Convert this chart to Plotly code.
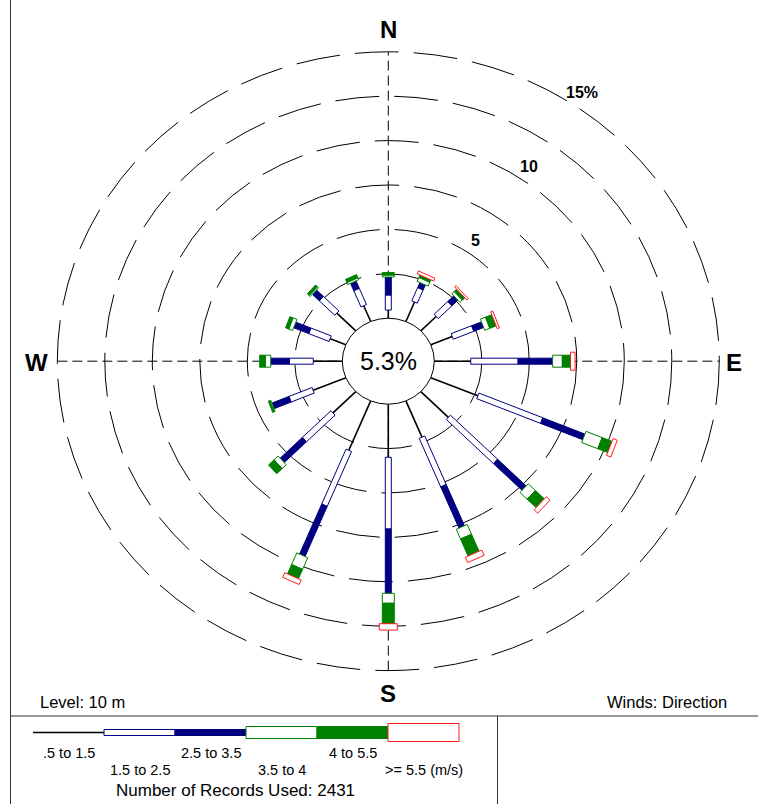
import math
import plotly.graph_objects as go

# ---- data -------------------------------------------------------------
directions = ["N", "NNE", "NE", "ENE", "E", "ESE", "SE", "SSE",
              "S", "SSW", "SW", "WSW", "W", "WNW", "NW", "NNW"]
dir_angles = [i * 22.5 for i in range(16)]

speed_labels = [".5 to 1.5", "1.5 to 2.5", "2.5 to 3.5",
                "3.5 to 4", "4 to 5.5", ">= 5.5 (m/s)"]

# frequency (%) of each wind speed class per direction
cls_05_15 = [0.46, 1.19, 1.14, 1.22, 1.92, 2.68, 2.05, 2.21, 2.99, 3.01, 1.70, 1.86, 1.53, 0.89, 1.41, 0.96]
cls_15_25 = [0.85, 0.81, 1.02, 1.17, 2.49, 3.64, 3.51, 2.96, 4.04, 3.35, 2.12, 1.32, 1.26, 1.16, 1.15, 0.99]
cls_25_35 = [1.01, 0.30, 0.45, 0.56, 1.82, 2.40, 2.13, 2.51, 3.62, 3.05, 1.66, 0.97, 0.98, 0.86, 0.52, 0.45]
cls_35_40 = [0.11, 0.24, 0.18, 0.29, 0.51, 0.92, 0.53, 0.59, 0.56, 0.71, 0.30, 0.06, 0.28, 0.22, 0.08, 0.12]
cls_40_55 = [0.14, 0.15, 0.18, 0.36, 0.43, 0.56, 0.67, 1.04, 1.15, 0.57, 0.41, 0.08, 0.30, 0.18, 0.14, 0.19]
cls_55_up = [0.00, 0.17, 0.11, 0.12, 0.24, 0.24, 0.27, 0.32, 0.36, 0.28, 0.00, 0.00, 0.00, 0.00, 0.00, 0.00]

calm_pct = 5.3
records_used = 2431
ring_pcts = [2.5, 5, 7.5, 10, 12.5, 15]
ring_texts = {5: "5", 10: "10", 15: "15%"}

# ---- geometry ---------------------------------------------------------
W, H = 758, 804
CX, CY = 388.3, 361.2          # rose centre in page pixels
SX, SY = 19.0, 17.76           # pixels per percent unit (x, y)
R0 = 2.42                      # calm circle radius (percent units)

x_range = [-CX / SX, (W - CX) / SX]
y_range = [-(H - CY) / SY, CY / SY]

FONT = "Liberation Sans, Arial, sans-serif"
NAVY = "#000080"
GREEN = "#008000"
RED = "#ff1a1a"


def seg_poly(theta_deg, ra, rb, half_px):
    """Rectangle along a spoke from radius ra to rb, half width in pixels."""
    t = math.radians(theta_deg)
    s, c = math.sin(t), math.cos(t)
    ux, uy = SX * s, SY * c
    n = math.hypot(ux, uy)
    ux, uy = ux / n, uy / n
    px, py = -uy, ux
    ox, oy = half_px * px / SX, half_px * py / SY
    ax, ay = ra * s, ra * c
    bx, by = rb * s, rb * c
    return ([ax + ox, bx + ox, bx - ox, ax - ox, ax + ox, None],
            [ay + oy, by + oy, by - oy, ay - oy, ay + oy, None])


classes = [cls_05_15, cls_15_25, cls_25_35, cls_35_40, cls_40_55, cls_55_up]
# (half width px, fill, outline)
styles = [None,
          (3.0, "white", NAVY),
          (3.0, NAVY, NAVY),
          (6.0, "white", GREEN),
          (6.0, GREEN, GREEN),
          (9.0, "white", RED)]

fig = go.Figure()

# spokes for the lowest class, rectangles for the others
lx, ly = [], []
polys = {k: ([], []) for k in range(1, 6)}
for i, th in enumerate(dir_angles):
    cum = R0
    for k, vals in enumerate(classes):
        v = vals[i]
        if v <= 0:
            continue
        ra, rb = cum, cum + v
        cum = rb
        t = math.radians(th)
        if k == 0:
            lx += [ra * math.sin(t), rb * math.sin(t), None]
            ly += [ra * math.cos(t), rb * math.cos(t), None]
        else:
            px_, py_ = seg_poly(th, ra, rb, styles[k][0])
            polys[k][0].extend(px_)
            polys[k][1].extend(py_)

fig.add_trace(go.Scatter(x=lx, y=ly, mode="lines",
                         line=dict(color="black", width=1.6),
                         hoverinfo="skip", showlegend=False))
for k in range(1, 6):
    hw, fillc, linec = styles[k]
    fig.add_trace(go.Scatter(x=polys[k][0], y=polys[k][1], mode="lines",
                             fill="toself", fillcolor=fillc,
                             line=dict(color=linec, width=1),
                             name=speed_labels[k], hoverinfo="skip",
                             showlegend=False))

shapes = []
# dashed frequency rings
for p in ring_pcts:
    r = R0 + p
    shapes.append(dict(type="circle", xref="x", yref="y",
                       x0=-r, x1=r, y0=-r, y1=r, layer="below",
                       line=dict(color="black", width=1, dash="44px,15px")))
# dashed compass axes
rmax = R0 + ring_pcts[-1]
shapes.append(dict(type="line", xref="x", yref="y", x0=0, x1=0, y0=-rmax, y1=rmax,
                   layer="below", line=dict(color="black", width=1, dash="10px,5px")))
shapes.append(dict(type="line", xref="x", yref="y", x0=-rmax, x1=rmax, y0=0, y1=0,
                   layer="below", line=dict(color="black", width=1, dash="10px,5px")))
# calm circle
shapes.append(dict(type="circle", xref="x", yref="y", x0=-R0, x1=R0, y0=-R0, y1=R0,
                   layer="above", fillcolor="white", line=dict(color="black", width=1)))


def pxx(x):
    return x / W


def pxy(y):
    return 1 - y / H


# frame lines
frame_col = "#333333"
shapes.append(dict(type="line", xref="paper", yref="paper", x0=pxx(10.5), x1=pxx(10.5),
                   y0=0, y1=1, line=dict(color=frame_col, width=1)))
shapes.append(dict(type="line", xref="paper", yref="paper", x0=pxx(10.5), x1=1,
                   y0=pxy(716), y1=pxy(716), line=dict(color=frame_col, width=1)))
shapes.append(dict(type="line", xref="paper", yref="paper", x0=pxx(497.5), x1=pxx(497.5),
                   y0=pxy(716), y1=0, line=dict(color=frame_col, width=1)))

# speed key
key_x = [33, 104, 175, 246, 317, 388, 459]
key_y = 732.5
shapes.append(dict(type="line", xref="paper", yref="paper",
                   x0=pxx(key_x[0]), x1=pxx(key_x[1]), y0=pxy(key_y), y1=pxy(key_y),
                   line=dict(color="black", width=1.6)))
for k in range(1, 6):
    hw, fillc, linec = styles[k]
    shapes.append(dict(type="rect", xref="paper", yref="paper",
                       x0=pxx(key_x[k]), x1=pxx(key_x[k + 1]),
                       y0=pxy(key_y + hw), y1=pxy(key_y - hw),
                       fillcolor=fillc, line=dict(color=linec, width=1)))

ann = []
for k, lab in enumerate(speed_labels):
    xc = (key_x[k] + key_x[k + 1]) / 2
    yc = 752.5 if k % 2 == 0 else 769.5
    ann.append(dict(xref="paper", yref="paper", x=pxx(xc), y=pxy(yc), text=lab,
                    xanchor="center", yanchor="middle", showarrow=False,
                    font=dict(family=FONT, size=14.5, color="black")))
ann.append(dict(xref="paper", yref="paper", x=pxx(235), y=pxy(790),
                xanchor="center", yanchor="middle",
                text="Number of Records Used: %d" % records_used, showarrow=False,
                font=dict(family=FONT, size=17, color="black")))
ann.append(dict(xref="paper", yref="paper", x=pxx(38), y=pxy(702),
                xanchor="left", yanchor="middle",
                text="Level: 10 m", showarrow=False,
                font=dict(family=FONT, size=16.5, color="black")))
ann.append(dict(xref="paper", yref="paper", x=pxx(729), y=pxy(702),
                xanchor="right", yanchor="middle",
                text="Winds: Direction", showarrow=False,
                font=dict(family=FONT, size=16.5, color="black")))

# calm percentage
ann.append(dict(x=0, y=0, text="%.1f%%" % calm_pct, showarrow=False,
                xanchor="center", yanchor="middle",
                font=dict(family=FONT, size=25, color="black")))

# compass points
compass = [("N", 0, rmax + 1.25), ("S", 0, -(rmax + 1.27)),
           ("E", rmax + 0.78, -0.1), ("W", -(rmax + 1.07), -0.1)]
for lab, x, y in compass:
    ann.append(dict(x=x, y=y, text="<b>%s</b>" % lab, showarrow=False,
                    xanchor="center", yanchor="middle",
                    font=dict(family=FONT, size=24, color="black")))

# ring labels
for p, txt in ring_texts.items():
    r = R0 + p + 0.8
    a = math.radians(34)
    ann.append(dict(x=r * math.sin(a), y=r * math.cos(a), text="<b>%s</b>" % txt,
                    xanchor="center", yanchor="middle", showarrow=False,
                    font=dict(family=FONT, size=16, color="black")))

fig.update_layout(
    width=W, height=H,
    margin=dict(l=0, r=0, t=0, b=0),
    paper_bgcolor="white", plot_bgcolor="white",
    xaxis=dict(range=x_range, visible=False, fixedrange=True),
    yaxis=dict(range=y_range, visible=False, fixedrange=True),
    shapes=shapes, annotations=ann, showlegend=False,
)

fig.write_html("out.html")
